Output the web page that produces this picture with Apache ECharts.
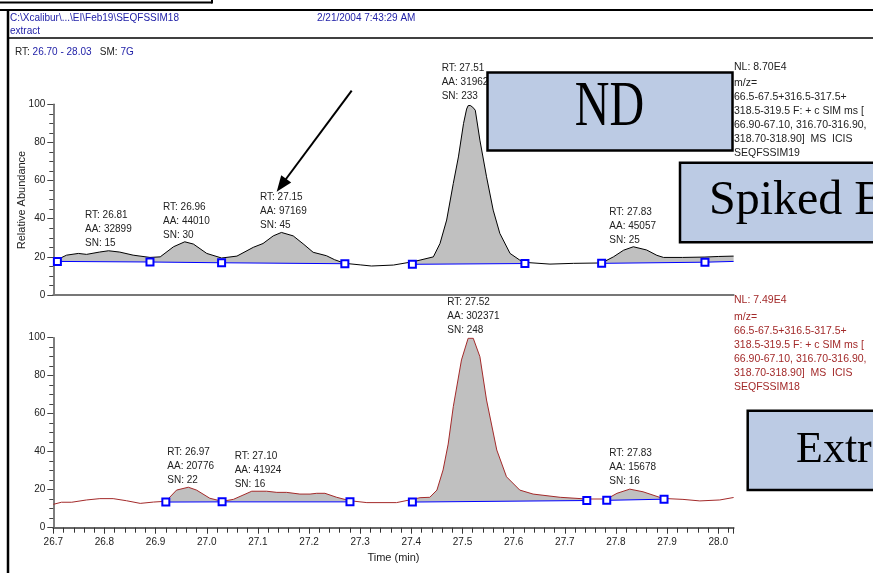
<!DOCTYPE html>
<html><head><meta charset="utf-8">
<script src="https://cdn.jsdelivr.net/npm/echarts@6/dist/echarts.min.js"></script>
<style>html,body{margin:0;padding:0;background:#fff;overflow:hidden}#c{width:873px;height:573px}</style>
</head><body><div id="c"></div>
<script>
// ---------- DATA ----------
const topTime = [26.700,26.708,26.726,26.749,26.765,26.790,26.808,26.830,26.856,26.889,26.909,26.935,26.957,26.974,27.000,27.029,27.059,27.091,27.110,27.130,27.146,27.169,27.190,27.208,27.234,27.250,27.270,27.300,27.322,27.365,27.402,27.417,27.443,27.456,27.469,27.482,27.492,27.502,27.508,27.511,27.515,27.520,27.525,27.534,27.547,27.560,27.573,27.593,27.612,27.622,27.671,27.717,27.772,27.795,27.815,27.834,27.860,27.880,27.893,27.930,27.974,28.000,28.030];
const topAbund = [18.3,18.6,20.9,21.8,21.3,22.5,23.2,22.5,20.9,19.7,20.0,25.3,27.9,26.7,21.8,19.4,20.4,25.0,27.0,31.0,32.8,31.0,26.5,22.4,20.6,18.5,16.6,15.8,15.2,15.7,17.4,18.3,20.0,27.0,39.3,58.5,72.4,89.9,97.5,99.3,99.4,98.5,96.9,81.2,62.0,44.5,32.3,21.8,18.3,17.1,16.2,16.6,16.8,20.0,23.5,25.3,23.6,20.8,19.7,19.7,19.9,20.2,20.4];

const botTime = [26.700,26.716,26.736,26.765,26.791,26.817,26.843,26.870,26.896,26.920,26.941,26.964,26.980,27.006,27.030,27.052,27.088,27.117,27.137,27.156,27.182,27.202,27.215,27.231,27.254,27.280,27.313,27.371,27.402,27.417,27.436,27.450,27.462,27.472,27.482,27.498,27.511,27.521,27.534,27.547,27.567,27.586,27.612,27.638,27.691,27.743,27.782,27.802,27.827,27.853,27.892,27.931,27.964,28.003,28.030];
const botAbund = [12.3,13.4,13.4,14.6,15.3,15.3,14.2,12.8,13.5,13.9,19.8,21.3,19.8,15.5,13.9,14.9,19.2,19.2,18.6,18.6,17.7,17.7,18.1,18.1,16.0,14.2,13.2,13.2,14.9,15.8,16.0,19.8,30.4,44.0,63.7,88.3,99.7,99.7,90.0,67.2,40.9,26.8,19.8,17.7,16.0,15.1,15.1,18.1,20.3,18.9,15.4,14.9,14.1,14.6,15.9];

// integration baselines (peak start/end points)
const topBaseSegs = [
  [[26.708,17.6],[26.889,17.3],[27.029,16.9],[27.270,16.4]],
  [[27.402,16.1],[27.622,16.5]],
  [[27.772,16.6],[27.974,17.2]]
];
const topBaseTail = [[27.974,17.2],[28.030,17.6]];
const botBaseSegs = [
  [[26.920,13.5],[27.030,13.6],[27.280,13.6]],
  [[27.402,13.5],[27.743,14.3]],
  [[27.782,14.4],[27.894,15.0]]
];
// integrated peak regions [start, end]
const topPeaks = [[26.708,26.889],[26.889,27.029],[27.029,27.270],[27.402,27.622],[27.772,27.974],[27.974,28.030]];
const botPeaks = [[26.920,27.030],[27.030,27.280],[27.402,27.743],[27.782,27.894]];

// peak annotations
const topPeakText = [
  ['RT: 26.81','AA: 32899','SN: 15'],
  ['RT: 26.96','AA: 44010','SN: 30'],
  ['RT: 27.15','AA: 97169','SN: 45'],
  ['RT: 27.51','AA: 31962','SN: 233'],
  ['RT: 27.83','AA: 45057','SN: 25']
];
const botPeakText = [
  ['RT: 26.97','AA: 20776','SN: 22'],
  ['RT: 27.10','AA: 41924','SN: 16'],
  ['RT: 27.52','AA: 302371','SN: 248'],
  ['RT: 27.83','AA: 15678','SN: 16']
];
const topInfo = ['NL: 8.70E4','m/z=','66.5-67.5+316.5-317.5+','318.5-319.5 F: + c SIM ms [','66.90-67.10, 316.70-316.90,','318.70-318.90]  MS  ICIS','SEQFSSIM19'];
const botInfo = ['NL: 7.49E4','m/z=','66.5-67.5+316.5-317.5+','318.5-319.5 F: + c SIM ms [','66.90-67.10, 316.70-316.90,','318.70-318.90]  MS  ICIS','SEQFSSIM18'];
const headerPath = 'C:\\Xcalibur\\...\\EI\\Feb19\\SEQFSSIM18';
const headerDate = '2/21/2004 7:43:29 AM';
const headerSub = 'extract';
const rtRange = '26.70 - 28.03';
const smText = '7G';
const boxTexts = ['ND','Spiked Extract','Extract'];

// ---------- LAYOUT / STYLE ----------
const topLabelPos = [[85,208],[163,200],[260,190],[441.7,61.5],[609.3,205]];
const botLabelPos = [[167.3,445.5],[234.7,449],[447.3,295],[609.3,446.5]];
const FONT = '"Liberation Sans", Arial, sans-serif';
const SERIF = '"Liberation Serif", "Times New Roman", serif';
const BLUE_TXT = '#2222a8';
const RED = '#a32a2a';

function interp(ts, vs, t) {
  for (let i = 0; i < ts.length - 1; i++) {
    if (t >= ts[i] && t <= ts[i + 1]) {
      const f = (t - ts[i]) / (ts[i + 1] - ts[i]);
      return vs[i] + f * (vs[i + 1] - vs[i]);
    }
  }
  return vs[vs.length - 1];
}
function baseAt(segs, t) {
  for (const s of segs) {
    if (t >= s[0][0] - 1e-9 && t <= s[s.length - 1][0] + 1e-9) {
      return interp(s.map(p => p[0]), s.map(p => p[1]), t);
    }
  }
  return 0;
}
function fillRenderer(ts, vs, segs) {
  return function (params, api) {
    const a = api.value(0), b = api.value(1);
    const pts = [api.coord([a, interp(ts, vs, a)])];
    for (let i = 0; i < ts.length; i++) if (ts[i] > a && ts[i] < b) pts.push(api.coord([ts[i], vs[i]]));
    pts.push(api.coord([b, interp(ts, vs, b)]));
    pts.push(api.coord([b, baseAt(segs, b)]));
    pts.push(api.coord([a, baseAt(segs, a)]));
    return { type: 'polygon', shape: { points: pts }, style: { fill: '#c0c0c0' } };
  };
}
const zip = (a, b) => a.map((v, i) => [v, b[i]]);

const xCommon = {
  type: 'value', min: 26.7, max: 28.03, interval: 0.1,
  splitLine: { show: false }
};
const yCommon = {
  type: 'value', min: 0, max: 100, interval: 20,
  splitLine: { show: false },
  axisLine: { show: true, lineStyle: { color: '#555', width: 1.5 } },
  axisTick: { show: true, length: 6, lineStyle: { color: '#444' } },
  minorTick: { show: true, splitNumber: 4, length: 4, lineStyle: { color: '#444' } },
  axisLabel: { fontSize: 10, color: '#222', fontFamily: FONT, margin: 8 }
};

const series = [];
function addPanel(idx, ts, vs, segs, tail, peaks, color) {
  series.push({
    type: 'custom', xAxisIndex: idx, yAxisIndex: idx, z: 1,
    renderItem: fillRenderer(ts, vs, tail ? segs.concat([tail]) : segs),
    data: peaks.map(p => [p[0], p[1], 0]),
    encode: { x: [0, 1], y: 2 }, silent: true
  });
  series.push({
    type: 'line', xAxisIndex: idx, yAxisIndex: idx, z: 3,
    data: zip(ts, vs), showSymbol: false, symbol: 'none',
    lineStyle: { color: color, width: 1 }, silent: true
  });
  segs.forEach(s => series.push({
    type: 'line', xAxisIndex: idx, yAxisIndex: idx, z: 4, data: s,
    symbol: 'emptyRect', symbolSize: 7, showSymbol: true,
    lineStyle: { color: '#0000ff', width: 1 },
    itemStyle: { color: '#0000ff', borderWidth: 1.2 }, silent: true
  }));
  if (tail) series.push({
    type: 'line', xAxisIndex: idx, yAxisIndex: idx, z: 4, data: tail,
    symbol: 'none', lineStyle: { color: '#0000ff', width: 1 }, silent: true
  });
}
addPanel(0, topTime, topAbund, topBaseSegs, topBaseTail, topPeaks, '#000');
addPanel(1, botTime, botAbund, botBaseSegs, null, botPeaks, RED);

function txt(x, y, text, o) {
  o = o || {};
  return {
    type: 'text', x: x, y: y, z: o.z || 50, scaleY: o.scaleY || 1, silent: true,
    style: {
      text: text, fill: o.color || '#222', font: (o.size || 10) + 'px ' + (o.family || FONT),
      textAlign: o.align || 'left', textVerticalAlign: o.va || 'middle',
      lineHeight: o.lh, rich: o.rich
    }
  };
}
function ln(x1, y1, x2, y2, w) {
  return { type: 'line', z: 60, silent: true, shape: { x1, y1, x2, y2 }, style: { stroke: '#000', lineWidth: w } };
}
function box(x, y, w, h) {
  return { type: 'rect', z: 80, silent: true, shape: { x, y, width: w, height: h }, style: { fill: '#bccbe4', stroke: '#000', lineWidth: 2.5 } };
}

const graphic = [
  ln(0, 2.5, 212, 2.5, 2), ln(212, 0, 212, 3.5, 2),
  ln(0, 10, 873, 10, 2), ln(8, 9, 8, 573, 2.5), ln(8, 38, 873, 38, 1.3),
  txt(10, 18, headerPath, { color: BLUE_TXT }),
  txt(10, 31, headerSub, { color: BLUE_TXT }),
  txt(317, 18, headerDate, { color: BLUE_TXT }),
  txt(15, 52, '{k|RT:} {v|' + rtRange + '}   {k|SM:} {v|' + smText + '}', {
    rich: { k: { fill: '#222', font: '10px ' + FONT }, v: { fill: BLUE_TXT, font: '10px ' + FONT } }
  }),
  txt(22, 200, 'Relative Abundance', { size: 11 }),
];
// rotate axis title
graphic[graphic.length - 1].rotation = Math.PI / 2;
graphic[graphic.length - 1].style.textAlign = 'center';

topPeakText.forEach((t, i) => graphic.push(txt(topLabelPos[i][0], topLabelPos[i][1], t.join('\n'), { lh: 14, va: 'top' })));
botPeakText.forEach((t, i) => graphic.push(txt(botLabelPos[i][0], botLabelPos[i][1], t.join('\n'), { lh: 14, va: 'top' })));
graphic.push(txt(734, 66.7, topInfo[0], { size: 10.5 }));
graphic.push(txt(734, 76.3, topInfo.slice(1).join('\n'), { size: 10.5, lh: 14, va: 'top' }));
graphic.push(txt(734, 300, botInfo[0], { size: 10.5, color: RED }));
graphic.push(txt(734, 309.7, botInfo.slice(1).join('\n'), { size: 10.5, lh: 14, va: 'top', color: RED }));

graphic.push(box(487.5, 72.5, 245, 78));
graphic.push(txt(609.5, 108, boxTexts[0], { family: SERIF, size: 48, align: 'center', scaleY: 1.32, color: '#000', z: 90 }));
graphic.push(box(680, 162.7, 220, 79.6));
graphic.push(txt(709, 201, boxTexts[1], { family: SERIF, size: 48, color: '#000', z: 90 }));
graphic.push(box(747.7, 410.7, 160, 79.3));
graphic.push(txt(796, 450, boxTexts[2], { family: SERIF, size: 44, color: '#000', z: 90 }));

// arrow
graphic.push({ type: 'line', z: 95, silent: true, shape: { x1: 351.7, y1: 90.7, x2: 284.5, y2: 181 }, style: { stroke: '#000', lineWidth: 2 } });
graphic.push({ type: 'polygon', z: 95, silent: true, shape: { points: [[276.7, 191.7], [291.2, 182.6], [281.2, 175.2]] }, style: { fill: '#000' } });

const chart = echarts.init(document.getElementById('c'), null, { renderer: 'canvas' });
chart.setOption({
  animation: false,
  backgroundColor: '#fff',
  grid: [
    { left: 53.3, top: 104.3, width: 680.3, height: 190.7 },
    { left: 53.3, top: 337.7, width: 680.3, height: 190 }
  ],
  xAxis: [
    Object.assign({}, xCommon, {
      gridIndex: 0,
      axisLine: { show: true, lineStyle: { color: '#777', width: 2 } },
      axisTick: { show: false }, axisLabel: { show: false }
    }),
    Object.assign({}, xCommon, {
      gridIndex: 1,
      axisLine: { show: true, lineStyle: { color: '#666', width: 2 } },
      axisTick: { show: true, length: 6, lineStyle: { color: '#333' } },
      minorTick: { show: true, splitNumber: 5, length: 5, lineStyle: { color: '#333' } },
      axisLabel: {
        fontSize: 10, color: '#222', fontFamily: FONT, margin: 10,
        formatter: v => (Math.abs(v * 10 - Math.round(v * 10)) < 1e-6 ? v.toFixed(1) : '')
      },
      name: 'Time (min)', nameLocation: 'middle', nameGap: 25,
      nameTextStyle: { fontSize: 11, color: '#222', fontFamily: FONT }
    })
  ],
  yAxis: [
    Object.assign({}, yCommon, { gridIndex: 0 }),
    Object.assign({}, yCommon, { gridIndex: 1 })
  ],
  series: series,
  graphic: graphic
});
</script></body></html>
